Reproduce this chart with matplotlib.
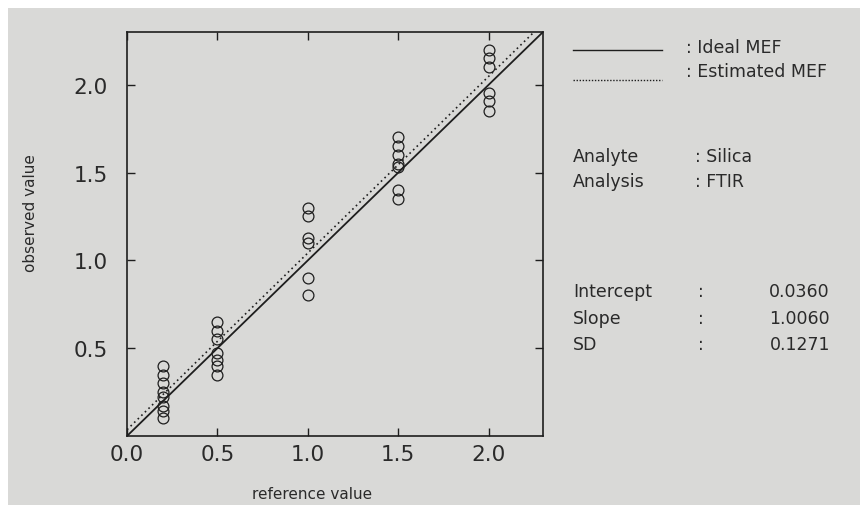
import numpy as np
import matplotlib
matplotlib.use("Agg")
import matplotlib.pyplot as plt
from matplotlib.lines import Line2D
from matplotlib.patches import Rectangle

# data
ref_levels = [0.2, 0.5, 1.0, 1.5, 2.0]
obs_02 = [0.40, 0.35, 0.30, 0.25, 0.22, 0.17, 0.14, 0.10]
obs_05 = [0.65, 0.60, 0.55, 0.47, 0.43, 0.40, 0.35]
obs_10 = [1.30, 1.25, 1.13, 1.10, 0.90, 0.80]
obs_15 = [1.70, 1.65, 1.60, 1.55, 1.53, 1.40, 1.35]
obs_20 = [2.20, 2.15, 2.10, 1.95, 1.91, 1.85]
observed = [obs_02, obs_05, obs_10, obs_15, obs_20]

intercept = 0.0360
slope = 1.0060
sd = 0.1271

x_ticks = [0.0, 0.5, 1.0, 1.5, 2.0]
y_ticks = [0.5, 1.0, 1.5, 2.0]
lim = 2.3

ink = "#1e1e1e"
paper = "#d9d9d7"
W, H = 860, 506

plt.rcParams['font.family'] = ['DejaVu Sans']

fig = plt.figure(figsize=(W / 100, H / 100), dpi=100)
fig.patch.set_facecolor("white")
# scanned page: grey paper with a thin white strip at top and left
fig.patches.append(Rectangle((8 / W, -0.01), 1, 1.01 - 9 / H, transform=fig.transFigure,
                             facecolor=paper, edgecolor="none", zorder=-10))

ax = fig.add_axes([127 / W, 1 - 437 / H, 416 / W, 404 / H])
ax.set_facecolor(paper)

# points
for xv, ys in zip(ref_levels, observed):
    ax.plot([xv] * len(ys), ys, linestyle="none", marker="o", markersize=7.8,
            markerfacecolor="none", markeredgecolor=ink, markeredgewidth=0.9)

# ideal and estimated MEF
xs = np.array([0.0, lim])
ax.plot(xs, xs, color=ink, lw=1.3)
ax.plot(xs, intercept + slope * xs, color=ink, lw=1.2, linestyle=(0, (1, 2.0)))

ax.set_xlim(0, lim)
ax.set_ylim(0, lim)
ax.set_xticks(x_ticks)
ax.set_yticks(y_ticks)
ax.set_xticklabels([f"{v:.1f}" for v in x_ticks])
ax.set_yticklabels([f"{v:.1f}" for v in y_ticks])
ax.tick_params(direction="in", length=6, width=1, color=ink, labelcolor="#2a2a2a",
               labelsize=15.5, top=True, right=True)
ax.tick_params(axis="y", pad=14)
ax.tick_params(axis="x", pad=6)
for s in ax.spines.values():
    s.set_color(ink)
    s.set_linewidth(1.2)

ax.set_xlabel("reference value", fontsize=11, color="#2a2a2a")
ax.set_ylabel("observed value", fontsize=11, color="#2a2a2a")
ax.xaxis.set_label_coords(0.445, -0.125)
ax.yaxis.set_label_coords(-0.215, 0.555)


def fx(px):
    return px / W


def fy(py):
    return 1 - py / H


txt = dict(fontsize=12.5, color="#2a2a2a", va="center", ha="left")

# legend
fig.add_artist(Line2D([fx(573), fx(662)], [fy(51), fy(51)], color=ink, lw=1.0))
fig.add_artist(Line2D([fx(573), fx(662)], [fy(81), fy(81)], color=ink, lw=1.0,
                      linestyle=(0, (1, 1.2))))
fig.text(fx(686), fy(48), ": Ideal MEF", **txt)
fig.text(fx(686), fy(72), ": Estimated MEF", **txt)

# analyte block
fig.text(fx(573), fy(157), "Analyte", **txt)
fig.text(fx(695), fy(157), ": Silica", **txt)
fig.text(fx(573), fy(182), "Analysis", **txt)
fig.text(fx(695), fy(182), ": FTIR", **txt)

# regression block
stats = [("Intercept", intercept), ("Slope", slope), ("SD", sd)]
for i, (name, val) in enumerate(stats):
    y = 292 + 26.5 * i
    fig.text(fx(573), fy(y), name, **txt)
    fig.text(fx(698), fy(y), ":", **txt)
    fig.text(fx(830), fy(y), f"{val:.4f}", fontsize=12.5, color="#2a2a2a",
             va="center", ha="right")

fig.savefig("out.png", dpi=100, facecolor=fig.get_facecolor())
